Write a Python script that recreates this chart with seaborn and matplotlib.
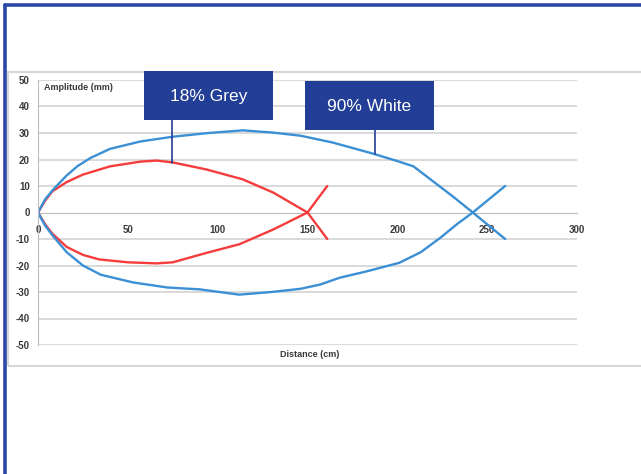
import numpy as np
import pandas as pd
import seaborn as sns
import matplotlib.pyplot as plt
from matplotlib.lines import Line2D
from matplotlib.patches import Rectangle
from matplotlib.ticker import MultipleLocator

# distance (cm) vs amplitude (mm), two branches per card
grey_up_x = [0, 4, 8, 16, 25, 40, 57, 66, 75, 94, 114, 131, 150, 161]
grey_up_y = [0, 4.5, 8, 11.5, 14.3, 17.4, 19.2, 19.6, 18.9, 16.2, 12.5, 7.5, 0, -10]
grey_lo_x = [0, 4, 8, 16, 25, 34, 50, 66, 75, 94, 112, 131, 150, 161]
grey_lo_y = [0, -4.5, -8, -13, -16, -17.7, -18.8, -19.2, -18.8, -15.2, -12, -6.4, 0, 10]

white_up_x = [0, 4, 8.5, 16, 22, 29, 40, 57, 75, 95, 114, 130, 146, 164, 186, 201, 209,
              220, 231, 242, 260]
white_up_y = [0, 5, 8.7, 14, 17.5, 20.5, 24, 26.8, 28.6, 30, 31, 30.2, 29, 26.4, 22.3,
              19.2, 17.4, 11.7, 6, 0, -10]
white_lo_x = [0, 4, 8.5, 16, 25, 35, 53, 72, 90, 112, 130, 146, 157, 168, 183, 201, 213,
              224, 233, 242, 260]
white_lo_y = [0, -5, -9, -15, -20, -23.5, -26.4, -28.3, -29, -31, -30, -28.8, -27.2,
              -24.6, -22.2, -19, -15, -9.5, -4.5, 0, 10]

series_names = ["18% Grey", "90% White"]
colours = {"18% Grey": "#f53c3c", "90% White": "#3b8fd4"}
box_blue = "#223e96"

rows = []
for name, branch, xs, ys in [
    ("18% Grey", "up", grey_up_x, grey_up_y),
    ("18% Grey", "lo", grey_lo_x, grey_lo_y),
    ("90% White", "up", white_up_x, white_up_y),
    ("90% White", "lo", white_lo_x, white_lo_y),
]:
    for x, y in zip(xs, ys):
        rows.append({"Distance": x, "Amplitude": y, "card": name, "branch": name + branch})
df = pd.DataFrame(rows)

sns.set_style("white")
plt.rcParams['font.family'] = ['Liberation Sans', 'DejaVu Sans']
plt.rcParams['axes.unicode_minus'] = False

fig = plt.figure(figsize=(6.41, 4.74), dpi=100)
W, H = 641, 474

def fx(px):
    return px / W

def fy(py):
    return 1 - py / H

# slide frame and chart area outline
fig.add_artist(Line2D([fx(4.5), fx(4.5)], [0, fy(5)], color="#2c47a8", lw=2.6))
fig.add_artist(Line2D([fx(4.5), 1], [fy(5), fy(5)], color="#2c47a8", lw=2.6))
fig.add_artist(Rectangle((fx(8), fy(366)), 1, fy(72) - fy(366), fill=False,
                         edgecolor="#d6d6d6", lw=1.5))

ax = fig.add_axes([fx(38), fy(345), fx(577) - fx(38), fy(80) - fy(345)])

sns.lineplot(data=df, x="Distance", y="Amplitude", hue="card", units="branch",
             estimator=None, sort=False, palette=colours, lw=1.7, ax=ax,
             legend=False)

ax.set_xlim(0, 300)
ax.set_ylim(-50, 50)
for y in range(-50, 51, 10):
    if y != 0:
        ax.axhline(y, color="#d9d9d9", lw=1.4, zorder=0)

ax.spines['top'].set_visible(False)
ax.spines['right'].set_visible(False)
ax.spines['bottom'].set_position(('data', 0))
ax.spines['bottom'].set_color("#bdbdbd")
ax.spines['left'].set_color("#bdbdbd")
ax.spines['bottom'].set_zorder(0.5)

ax.xaxis.set_major_locator(MultipleLocator(50))
ax.xaxis.set_minor_locator(MultipleLocator(25))
ax.yaxis.set_major_locator(MultipleLocator(10))
ax.yaxis.set_minor_locator(MultipleLocator(2))
ax.tick_params(axis='both', which='both', colors="#b0b0b0", labelcolor="#3a3a3a",
               labelsize=7)
ax.tick_params(axis='x', which='both', direction='in', length=3, pad=9)
ax.tick_params(axis='y', which='major', direction='inout', length=4, pad=4)
ax.tick_params(axis='y', which='minor', direction='inout', length=2.5, width=0.8)
for lab in ax.get_xticklabels() + ax.get_yticklabels():
    lab.set_fontweight('bold')
ax.set_xlabel("")
ax.set_ylabel("")

ax.text(3.3, 47, "Amplitude (mm)", fontsize=6.5, fontweight='bold', color="#3a3a3a",
        ha='left', va='center')
ax.text(151, -53.5, "Distance (cm)", fontsize=6.5, fontweight='bold', color="#3a3a3a",
        ha='center', va='center', clip_on=False)

# callout boxes with leader lines
callouts = [
    ("18% Grey", 144, 71, 74.6, 19.0),
    ("90% White", 305, 81, 187.5, 22.2),
]
for label, bx, by, cx, cy in callouts:
    bw, bh = 129, 49
    fig.add_artist(Rectangle((fx(bx), fy(by + bh)), bw / W, bh / H,
                             facecolor=box_blue, edgecolor="none", zorder=5))
    fig.text(fx(bx + bw / 2), fy(by + bh / 2 + 1), label, color="white",
             fontsize=12.5, ha='center', va='center', zorder=6)
    lx = 38 + cx * (577 - 38) / 300
    ly = 213 - cy * (345 - 80) / 100
    fig.add_artist(Line2D([fx(lx), fx(lx)], [fy(by + bh), fy(ly)],
                          color=box_blue, lw=1.2, zorder=5))

fig.savefig("out.png", dpi=100)
